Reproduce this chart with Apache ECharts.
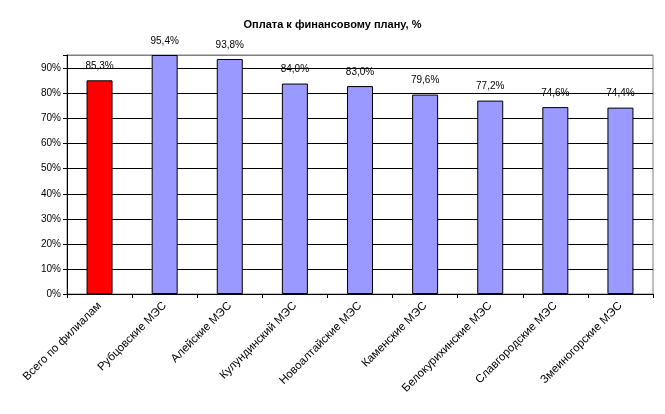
<!DOCTYPE html>
<html><head><meta charset="utf-8">
<script src="https://cdn.jsdelivr.net/npm/echarts@6/dist/echarts.min.js"></script>
<style>html,body{margin:0;padding:0;background:#fff}#c{width:665px;height:414px}</style>
</head><body><div id="c"></div>
<script>
const categories = ["Всего по филиалам","Рубцовские МЭС","Алейские МЭС","Кулундинский МЭС","Новоалтайские МЭС","Каменские МЭС","Белокурихинские МЭС","Славгородские МЭС","Змеиногорские МЭС"];
const values = [85.3, 95.4, 93.8, 84.0, 83.0, 79.6, 77.2, 74.6, 74.4];
const barColors = ["#FF0000","#9999FF","#9999FF","#9999FF","#9999FF","#9999FF","#9999FF","#9999FF","#9999FF"];
const title = "Оплата к финансовому плану, %";

const chart = echarts.init(document.getElementById('c'));
const font = 'Arial, "Liberation Sans", sans-serif';
const splitColors = [];
for (let i = 0; i < 10; i++) splitColors.push('#000000');
splitColors.push('#808080');
chart.setOption({
  animation: false,
  title: {text: title, left: 'center', top: 14,
    textStyle: {fontFamily: font, fontSize: 11, fontWeight: 'bold', color: '#000'}},
  grid: {left: 67, right: 12, top: 55, bottom: 120, show: true, borderColor: '#808080', borderWidth: 1},
  xAxis: {type: 'category', data: categories,
    axisLine: {lineStyle: {color: '#000', width: 1}},
    axisTick: {show: true, length: 4, alignWithLabel: false, lineStyle: {color: '#000'}},
    axisLabel: {rotate: 45, interval: 0, fontFamily: font, fontSize: 11.5, color: '#000', margin: 10}},
  yAxis: {type: 'value', min: 0, max: 95.4, interval: 10,
    axisLine: {show: true, lineStyle: {color: '#000', width: 1}},
    axisTick: {show: true, length: 4, lineStyle: {color: '#000'}},
    axisLabel: {fontFamily: font, fontSize: 10, color: '#000', margin: 6,
      formatter: v => (Math.abs(v % 10) < 1e-6 ? v + '%' : '')},
    splitLine: {show: true, lineStyle: {color: splitColors, width: 1}}},
  series: [{type: 'bar', barWidth: 26, clip: false,
    data: values.map((v, i) => ({value: v, itemStyle: {color: barColors[i]}})),
    itemStyle: {borderColor: '#000', borderWidth: 1},
    label: {show: true, position: 'top', distance: 9, fontFamily: font, fontSize: 10, color: '#000',
      formatter: p => p.value.toFixed(1).replace('.', ',') + '%'}}]
});
</script></body></html>
